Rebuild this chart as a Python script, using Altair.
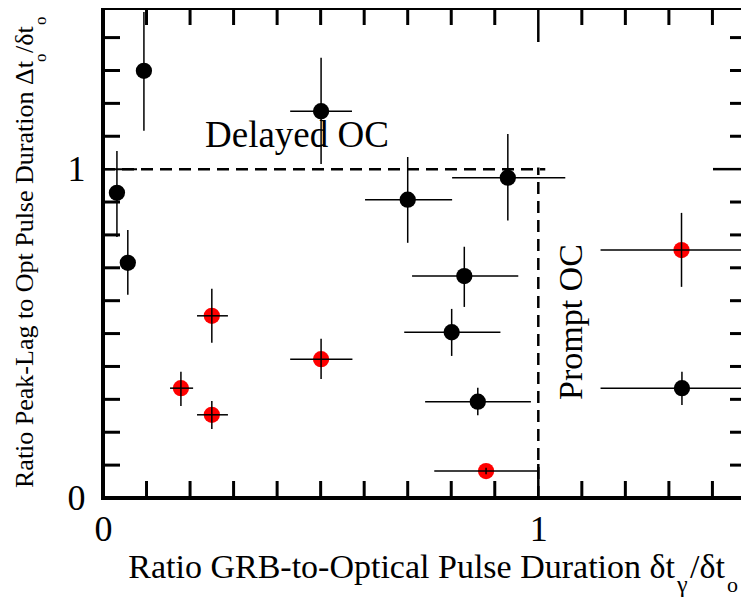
import altair as alt
import pandas as pd

# ---------------- data ----------------
black_x   = [0.094, 0.501, 0.032, 0.057, 0.700, 0.930, 0.830, 0.801, 0.861, 1.330]
black_y   = [1.299, 1.176, 0.928, 0.715, 0.907, 0.974, 0.675, 0.504, 0.293, 0.334]
black_xlo = [0.094, 0.430, 0.032, 0.057, 0.602, 0.802, 0.710, 0.692, 0.740, 1.143]
black_xhi = [0.094, 0.572, 0.032, 0.057, 0.802, 1.062, 0.954, 0.913, 0.983, 1.600]
black_ylo = [1.117, 1.016, 0.794, 0.618, 0.776, 0.844, 0.581, 0.432, 0.252, 0.283]
black_yhi = [1.478, 1.339, 1.055, 0.815, 1.037, 1.107, 0.764, 0.575, 0.335, 0.384]

red_x   = [1.329, 0.250, 0.501, 0.179, 0.250, 0.880]
red_y   = [0.754, 0.554, 0.422, 0.334, 0.253, 0.082]
red_xlo = [1.143, 0.216, 0.430, 0.154, 0.216, 0.761]
red_xhi = [1.600, 0.287, 0.573, 0.207, 0.287, 0.999]
red_ylo = [0.642, 0.472, 0.362, 0.280, 0.210, 0.072]
red_yhi = [0.867, 0.636, 0.484, 0.384, 0.295, 0.092]

# region boundaries (dashed)
hline = {"x": [0.0], "x2": [1.016], "y": [1.0]}
vline = {"x": [1.0], "y": [0.0], "y2": [1.005]}

minor_x = [0.1, 0.2, 0.3, 0.4, 0.5, 0.6, 0.7, 0.8, 0.9, 1.1, 1.2, 1.3, 1.4]
minor_y = [0.1, 0.2, 0.3, 0.4, 0.5, 0.6, 0.7, 0.8, 0.9, 1.1, 1.2, 1.3, 1.4]
major_ticks = [0, 1]
tick_labels = [0, 1]

# ---------------- layout ----------------
W, H = 638, 490
XMAX, YMAX = 638 / 435.3, 1.49
SERIF = "Liberation Serif"

xs = alt.Scale(domain=[0, XMAX], nice=False, zero=False)
ys = alt.Scale(domain=[0, YMAX], nice=False, zero=False)
xax = alt.Axis(values=tick_labels, format="d", labelFont=SERIF, labelFontSize=36,
               labelColor="black", ticks=False, tickSize=0, domain=False, grid=False,
               title=None, labelPadding=14, labelFlush=False)
yax = alt.Axis(values=tick_labels, format="d", labelFont=SERIF, labelFontSize=36,
               labelColor="black", ticks=False, tickSize=0, domain=False, grid=False,
               title=None, labelPadding=18, labelFlush=False)

pts = pd.DataFrame({
    "x": black_x + red_x,
    "y": black_y + red_y,
    "xlo": black_xlo + red_xlo,
    "xhi": black_xhi + red_xhi,
    "ylo": black_ylo + red_ylo,
    "yhi": black_yhi + red_yhi,
    "grp": ["black"] * len(black_x) + ["red"] * len(red_x),
})

X = lambda f: alt.X(f, type="quantitative", scale=xs, axis=xax)
Y = lambda f: alt.Y(f, type="quantitative", scale=ys, axis=yax)

points = alt.Chart(pts).mark_circle(size=265, opacity=1).encode(
    x=X("x"), y=Y("y"),
    color=alt.Color("grp:N", scale=alt.Scale(domain=["black", "red"], range=["#000000", "#ff0000"]),
                    legend=None),
)
verr = alt.Chart(pts).mark_rule(color="black", strokeWidth=1.5, clip=True).encode(
    x=X("x"), y=Y("ylo"), y2="yhi")
herr = alt.Chart(pts).mark_rule(color="black", strokeWidth=1.5, clip=True).encode(
    y=Y("y"), x=X("xlo"), x2="xhi")

dash_h = alt.Chart(pd.DataFrame(hline)).mark_rule(color="black", strokeWidth=2.5, strokeDash=[12, 7]).encode(
    x=X("x"), x2="x2", y=Y("y"))
dash_v = alt.Chart(pd.DataFrame(vline)).mark_rule(color="black", strokeWidth=2.5, strokeDash=[12, 7]).encode(
    x=X("x"), y=Y("y"), y2="y2")

one = pd.DataFrame({"a": [0]})
frame_top = alt.Chart(one).mark_rule(color="black", strokeWidth=4, strokeCap="square").encode(
    x=alt.value(0), x2=alt.value(W), y=alt.value(0))
frame_left = alt.Chart(one).mark_rule(color="black", strokeWidth=4, strokeCap="square").encode(
    x=alt.value(0), y=alt.value(0), y2=alt.value(H))
frame_bottom = alt.Chart(one).mark_rule(color="black", strokeWidth=4, strokeCap="square").encode(
    x=alt.value(0), x2=alt.value(W), y=alt.value(H))

mx = pd.DataFrame({"v": minor_x})
my = pd.DataFrame({"v": minor_y})
Mj = pd.DataFrame({"v": major_ticks})
MINOR, MAJOR, TW = 17, 34, 3

def xticks(df, y0, y1, w):
    return alt.Chart(df).mark_rule(color="black", strokeWidth=w).encode(
        x=X("v"), y=alt.value(y0), y2=alt.value(y1))

def yticks(df, x0, x1, w):
    return alt.Chart(df).mark_rule(color="black", strokeWidth=w).encode(
        y=Y("v"), x=alt.value(x0), x2=alt.value(x1))

ticks = [
    xticks(mx, H, H - MINOR, TW), xticks(Mj, H, H - MAJOR, 2.5),
    xticks(mx, 0, MINOR, TW), xticks(Mj, 0, MAJOR, 2.5),
    yticks(my, 0, MINOR, TW), yticks(Mj, 0, MAJOR, 2),
    yticks(my, W, W - 11, TW), yticks(Mj, W, W - 28, 2.5),
]

def label(text, x, y, size, angle=0, align="left"):
    return alt.Chart(one).mark_text(text=text, font=SERIF, fontSize=size, color="black",
                                    align=align, baseline="alphabetic", angle=angle).encode(
        x=alt.value(x), y=alt.value(y))

texts = [
    label("Delayed OC", 102, 139, 37),
    label("Prompt OC", 479, 392, 34, angle=270),
    # x title
    label("Ratio GRB-to-Optical Pulse Duration δt", 572, 570, 34, align="right"),
    label("γ", 574, 584, 24),
    label("/δt", 587, 570, 34),
    label("o", 624, 584, 22),
    # y title
    label("Ratio Peak-Lag to Opt Pulse Duration Δt", -70, 480, 26, angle=270),
    label("o", -57, 54, 17, angle=270),
    label("/δt", -70, 45, 26, angle=270),
    label("o", -57, 17, 17, angle=270),
]

chart = alt.layer(
    dash_h, dash_v, points, verr, herr, *ticks, frame_top, frame_left, frame_bottom, *texts
).properties(
    width=W, height=H,
    autosize=alt.AutoSizeParams(type="none"),
    padding={"left": 95, "top": 0, "right": 0, "bottom": 103},
    background="white",
).configure_view(stroke=None)

chart.save("out.html", embed_options={"renderer": "svg", "actions": False})
